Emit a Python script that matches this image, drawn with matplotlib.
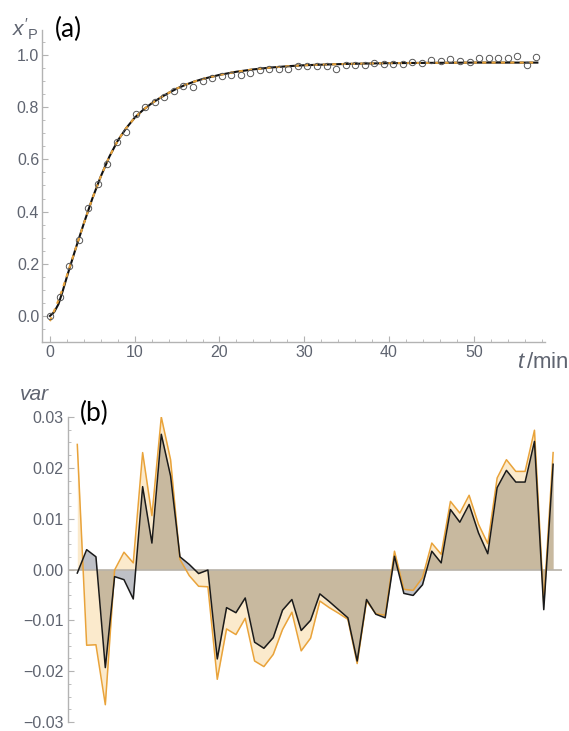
import numpy as np
import matplotlib
matplotlib.use("Agg")
import matplotlib.pyplot as plt
from matplotlib.ticker import MultipleLocator, FixedLocator, FixedFormatter

# ---------------- data ----------------
# sampling times (min)
t_obs = [0, 1.13, 2.25, 3.38, 4.5, 5.63, 6.75, 7.88, 9.0, 10.13, 11.25, 12.38, 13.5,
         14.63, 15.75, 16.88, 18.0, 19.13, 20.25, 21.38, 22.5, 23.63, 24.75, 25.88,
         27.0, 28.13, 29.25, 30.38, 31.5, 32.63, 33.75, 34.88, 36.0, 37.13, 38.25,
         39.38, 40.5, 41.63, 42.75, 43.88, 45.0, 46.13, 47.25, 48.38, 49.5, 50.63,
         51.75, 52.88, 54.0, 55.13, 56.25, 57.38]
# measured x'_P
x_obs = [0.000, 0.072, 0.192, 0.290, 0.413, 0.506, 0.581, 0.665, 0.706, 0.773, 0.802,
         0.819, 0.840, 0.863, 0.881, 0.876, 0.899, 0.911, 0.921, 0.922, 0.923, 0.933,
         0.943, 0.947, 0.946, 0.945, 0.957, 0.958, 0.958, 0.958, 0.948, 0.962, 0.962,
         0.962, 0.971, 0.964, 0.964, 0.966, 0.973, 0.971, 0.981, 0.978, 0.983, 0.977,
         0.973, 0.987, 0.990, 0.990, 0.987, 0.996, 0.962, 0.992]

# fitted curves
t_fit = [0, 0.5, 1, 1.5, 2, 3, 4, 5, 6, 7, 8, 9, 10, 11, 12, 13, 14, 15, 16, 17, 18,
         20, 22, 24, 26, 28, 30, 35, 40, 45, 50, 57.5]
x_fit_black = [0.0, 0.015, 0.045, 0.095, 0.15, 0.255, 0.355, 0.45, 0.535, 0.61, 0.672,
               0.72, 0.76, 0.79, 0.815, 0.836, 0.855, 0.872, 0.886, 0.898, 0.908,
               0.924, 0.936, 0.945, 0.952, 0.957, 0.961, 0.966, 0.969, 0.970, 0.971, 0.971]
x_fit_orange = [-0.02, 0.02, 0.06, 0.105, 0.155, 0.255, 0.355, 0.45, 0.535, 0.61, 0.672,
                0.72, 0.76, 0.79, 0.815, 0.836, 0.855, 0.872, 0.886, 0.898, 0.908,
                0.924, 0.936, 0.945, 0.952, 0.957, 0.961, 0.966, 0.969, 0.970, 0.971, 0.971]

# residual / variation series for panel (b)
var_black = [-0.0007, 0.0039, 0.0025, -0.0193, -0.0014, -0.0020, -0.0058, 0.0163,
             0.0052, 0.0266, 0.0184, 0.0025, 0.0010, -0.0008, -0.0001, -0.0176,
             -0.0075, -0.0085, -0.0056, -0.0143, -0.0155, -0.0134, -0.0080, -0.0059,
             -0.0120, -0.0100, -0.0048, -0.0063, -0.0079, -0.0095, -0.0180, -0.0059,
             -0.0088, -0.0095, 0.0026, -0.0047, -0.0051, -0.0030, 0.0036, 0.0013,
             0.0118, 0.0093, 0.0128, 0.0072, 0.0031, 0.0161, 0.0195, 0.0172, 0.0172,
             0.0252, -0.0079, 0.0207]
var_orange = [0.0246, -0.0149, -0.0148, -0.0266, -0.0001, 0.0034, 0.0013, 0.0230,
              0.0106, 0.0300, 0.0216, 0.0020, -0.0012, -0.0033, -0.0034, -0.0216,
              -0.0117, -0.0128, -0.0096, -0.0180, -0.0191, -0.0167, -0.0118, -0.0084,
              -0.0160, -0.0135, -0.0062, -0.0075, -0.0086, -0.0098, -0.0185, -0.0062,
              -0.0087, -0.0090, 0.0036, -0.0039, -0.0041, -0.0016, 0.0052, 0.0030,
              0.0134, 0.0111, 0.0146, 0.0089, 0.0051, 0.0180, 0.0216, 0.0193, 0.0193,
              0.0274, -0.0066, 0.0230]

x_ticks_top = [0, 10, 20, 30, 40, 50]
y_ticks_top = [0.0, 0.2, 0.4, 0.6, 0.8, 1.0]
y_ticks_bot = [-0.03, -0.02, -0.01, 0.0, 0.01, 0.02, 0.03]
y_ticklabels_bot = ["\u22120.03", "\u22120.02", "\u22120.01", "0.00", "0.01", "0.02", "0.03"]

# ---------------- style ----------------
plt.rcParams['font.family'] = ['Liberation Sans', 'DejaVu Sans']
plt.rcParams['mathtext.fontset'] = 'custom'
plt.rcParams['mathtext.it'] = 'Liberation Sans:italic'
plt.rcParams['mathtext.rm'] = 'Liberation Sans'

AXC = '#b3b3b3'
LBL = '#5f6470'
ORANGE = '#e9a33a'
W, H = 569, 731

fig = plt.figure(figsize=(W / 100, H / 100), dpi=100)

# ---------------- panel (a) ----------------
ax1 = fig.add_axes([42 / W, 1 - 342 / H, 503 / W, 312 / H])
ax1.set_xlim(-0.94, 58.4)
ax1.set_ylim(-0.1, 1.096)
for s in ['top', 'right']:
    ax1.spines[s].set_visible(False)
for s in ['left', 'bottom']:
    ax1.spines[s].set_color(AXC)
    ax1.spines[s].set_linewidth(1.0)
ax1.xaxis.set_major_locator(FixedLocator(x_ticks_top))
ax1.xaxis.set_minor_locator(MultipleLocator(2))
ax1.yaxis.set_major_locator(FixedLocator(y_ticks_top))
ax1.yaxis.set_major_formatter(FixedFormatter(["%.1f" % v for v in y_ticks_top]))
ax1.yaxis.set_minor_locator(MultipleLocator(0.05))
ax1.tick_params(which='both', direction='in', color=AXC, labelcolor=LBL, labelsize=11.5)
ax1.tick_params(which='major', length=4, width=0.8)
ax1.tick_params(which='minor', length=2, width=0.6)
ax1.tick_params(axis='y', pad=2)
ax1.tick_params(axis='x', pad=2)

ax1.plot(t_fit, x_fit_black, color='#111111', lw=1.5, zorder=3, solid_joinstyle='round')
ax1.plot(t_fit, x_fit_orange, color=ORANGE, lw=1.5, ls=(0, (2, 2.5)), zorder=4)
ax1.plot(t_obs, x_obs, ls='none', marker='o', ms=4.6, mfc='none', mec='#555555',
         mew=0.7, zorder=5)

fig.text(12 / W, 1 - 37 / H, r"$x'_{\mathrm{P}}$", fontsize=15, color=LBL)
fig.text(55 / W, 1 - 37 / H, "(a)", fontsize=19, color='black', family=['Lato', 'DejaVu Sans'])
fig.text(517 / W, 1 - 368 / H, r"$t\,$/min", fontsize=16, color=LBL)

# ---------------- panel (b) ----------------
ax2 = fig.add_axes([68 / W, 1 - 722 / H, 494 / W, 305 / H])
ax2.set_xlim(-1.12, 58.45)
ax2.set_ylim(-0.03, 0.03)
for s in ['top', 'right', 'bottom']:
    ax2.spines[s].set_visible(False)
ax2.spines['left'].set_color(AXC)
ax2.spines['left'].set_linewidth(1.0)
ax2.set_xticks([])
ax2.yaxis.set_major_locator(FixedLocator(y_ticks_bot))
ax2.yaxis.set_major_formatter(FixedFormatter(y_ticklabels_bot))
ax2.yaxis.set_minor_locator(MultipleLocator(0.0025))
ax2.tick_params(which='both', direction='in', color=AXC, labelcolor=LBL, labelsize=11.5, pad=3)
ax2.tick_params(which='major', length=4, width=0.8)
ax2.tick_params(which='minor', length=2, width=0.6)

ax2.fill_between(t_obs, var_black, 0, color='#bec0c6', lw=0, zorder=1)
ax2.fill_between(t_obs, var_orange, 0, color=(240 / 255, 160 / 255, 17 / 255), alpha=0.21,
                 lw=0, zorder=2)
ax2.axhline(0, color='#b8b2a8', lw=1.2, zorder=2.5)
ax2.plot(t_obs, var_orange, color=ORANGE, lw=1.1, zorder=3)
ax2.plot(t_obs, var_black, color='#1a1a1a', lw=1.1, zorder=4)

fig.text(20 / W, 1 - 400 / H, "var", fontsize=15, color=LBL, style='italic')
fig.text(80 / W, 1 - 421 / H, "(b)", fontsize=19, color='black', family=['Lato', 'DejaVu Sans'])

fig.savefig("out.png", dpi=100)
